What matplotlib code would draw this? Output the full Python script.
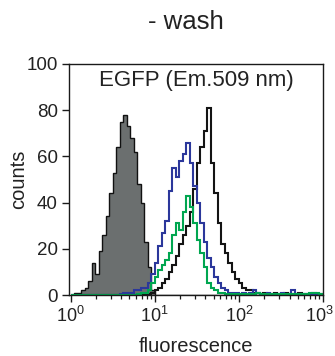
import numpy as np
import matplotlib
matplotlib.use("Agg")
import matplotlib.pyplot as plt
import matplotlib.transforms as mtransforms
from matplotlib.ticker import LogLocator, NullFormatter

plt.rcParams["font.family"] = ["Liberation Sans", "DejaVu Sans"]
plt.rcParams["mathtext.fontset"] = "custom"
plt.rcParams["mathtext.rm"] = "Liberation Sans"

# histogram channels: 24 bins per decade from 10^0 to 10^3
bins_per_decade = 24
edges = 10 ** (np.arange(0, 3 * bins_per_decade + 1) / bins_per_decade)

x_ticks = [1, 10, 100, 1000]
x_ticklabels = [r"$10^{0}$", r"$10^{1}$", r"$10^{2}$", r"$10^{3}$"]

# unstained control (gray filled)
control = [0, 1, 1, 2, 3, 6, 14, 9, 19, 26, 34, 44, 53, 64, 75, 78, 73, 68, 62, 48,
           40, 23, 12, 2, 0, 0, 0, 0, 0, 0, 0, 0, 0, 0, 0, 0, 0, 0, 0, 0,
           0, 0, 0, 0, 0, 0, 0, 0, 0, 0, 0, 0, 0, 0, 0, 0, 0, 0, 0, 0,
           0, 0, 0, 0, 0, 0, 0, 0, 0, 0, 0, 0]

# sample traces
black = [0, 0, 0, 0, 0, 0, 0, 0, 0, 0, 0, 0, 0, 0, 0, 0, 0, 0, 0, 0,
         0, 0, 0.5, 1, 2, 3, 5, 7, 10, 13, 17, 22, 26, 30, 36, 46, 57, 64, 71, 81,
         57, 44, 31, 22, 18, 14, 10, 7, 5, 3, 2, 2, 1, 1, 0.5, 1, 0.5, 0.5, 1, 0.5,
         0.5, 1, 0.5, 0.5, 0.5, 1, 0.5, 0.5, 0.5, 1, 0.5, 0.5]
blue = [0, 0, 0, 0, 0, 0, 0, 0, 0, 0, 0, 0, 0, 0, 0.5, 1, 1, 1, 2, 2,
        3, 3, 5, 9, 14, 21, 27, 32, 45, 55, 51, 58, 61, 66, 57, 47, 40, 31, 23, 16,
        12, 8, 5, 3, 2, 1, 1, 1, 0.5, 1, 0.5, 1, 2, 1, 0.5, 0.5, 1, 0.5, 0.5, 0.5,
        1, 0.5, 0.5, 2, 0.5, 0.5, 0.5, 0.5, 0.5, 0.5, 0.5, 0]
green = [0, 0, 0, 0, 0, 0, 0, 0, 0, 0, 0, 0, 0, 0, 0, 0, 0, 0, 0, 0.5,
         1, 1, 2, 5, 8, 11, 13, 15, 18, 26, 31, 28, 36, 43, 38, 31, 24, 18, 12, 5,
         3, 2, 1, 1, 0.5, 0.5, 0.5, 0.5, 0.5, 0.5, 0.5, 0.5, 0.5, 1, 0.5, 0.5, 0.5, 0.5, 0.5, 0.5,
         0.5, 0.5, 0.5, 0.5, 0.5, 0.5, 0.5, 0.5, 1, 1, 1, 0.5]

fig = plt.figure(figsize=(3.35, 3.56), dpi=100)
ax = fig.add_axes([69 / 335, 61 / 356, 254 / 335, 231 / 356])

ax.stairs(control, edges, fill=True, color="#6b6f6f")
ax.stairs(control, edges, color="#111111", linewidth=1.0)
ax.stairs(black, edges, color="#141414", linewidth=1.5)
ax.stairs(blue, edges, color="#2b379b", linewidth=1.5)
ax.stairs(green, edges, color="#00a650", linewidth=1.5)

ax.set_xscale("log")
ax.set_xlim(0.955, 1000)
ax.set_ylim(0, 100)
ax.set_yticks([0, 20, 40, 60, 80, 100])
ax.set_xticks(x_ticks)
ax.set_xticklabels(x_ticklabels)
ax.xaxis.set_minor_locator(LogLocator(base=10, subs=np.arange(2, 10), numticks=10))
ax.xaxis.set_minor_formatter(NullFormatter())

for s in ax.spines.values():
    s.set_linewidth(1.0)
    s.set_color("#1a1a1a")
ax.tick_params(axis="both", which="major", direction="out", length=5, width=1.0,
               labelsize=13.5, pad=3, colors="#1a1a1a", labelcolor="#222222")
ax.tick_params(axis="x", which="major", labelsize=13)
ax.tick_params(axis="x", which="minor", direction="out", length=3, width=0.9, colors="#1a1a1a")

ax.set_xlabel("fluorescence", fontsize=14.5, color="#222222", labelpad=8)
ax.set_ylabel("counts", fontsize=14.5, color="#222222", labelpad=-1)
ax.text(0.5, 0.93, "EGFP (Em.509 nm)", transform=ax.transAxes, ha="center", va="center",
        fontsize=16, color="#222222")

fig.text(186 / 335, 1 - 22 / 356, "- wash", ha="center", va="center", fontsize=18.5, color="#222222")

# keep the 10^3 label inside the figure edge
fig.canvas.draw()
last = ax.xaxis.get_major_ticks()[-1].label1
last.set_transform(last.get_transform() + mtransforms.ScaledTranslation(-4 / 100, 0, fig.dpi_scale_trans))

fig.savefig("out.png", dpi=100)
